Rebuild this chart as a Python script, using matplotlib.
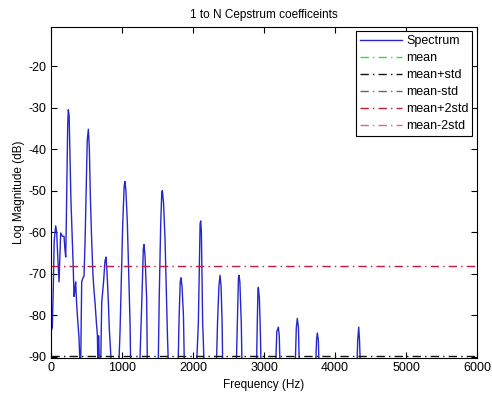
import matplotlib
matplotlib.use("Agg")
import matplotlib.pyplot as plt

plt.rcParams['font.family'] = ['Liberation Sans', 'DejaVu Sans']
plt.rcParams['axes.unicode_minus'] = False

# Spectrum trace: frequency (Hz) and log magnitude (dB) vertices
freq_hz = [
    0, 18, 30, 45, 66, 80, 95, 113, 125, 136, 160, 183, 195, 207, 215, 225, 235,
    244, 255, 265, 280, 300, 312, 324, 335, 347, 360, 375, 394, 408, 418, 432,
    450, 465, 480, 495, 510, 526, 540, 555, 573, 590, 605, 620, 640, 653, 660,
    664, 667, 673, 680, 700, 714, 740, 760, 775, 790, 808, 820, 832, 850, 955,
    972, 990, 1010, 1030, 1042, 1055, 1075, 1095, 1113, 1122, 1250, 1280, 1300,
    1310, 1325, 1347, 1357, 1510, 1525, 1545, 1560, 1568, 1585, 1606, 1625,
    1640, 1653, 1790, 1805, 1820, 1831, 1845, 1865, 1878, 2050, 2060, 2075,
    2090, 2100, 2108, 2118, 2136, 2145, 2155, 2330, 2345, 2365, 2380, 2395,
    2410, 2418, 2610, 2625, 2640, 2648, 2660, 2680, 2690, 2895, 2905, 2915,
    2920, 2935, 2950, 2958, 3165, 3180, 3202, 3215, 3225, 3440, 3455, 3469,
    3485, 3497, 3728, 3740, 3751, 3765, 3775, 4310, 4320, 4334, 4345, 4357,
    6000,
]
magnitude_db = [
    -84, -83, -75, -62, -58.5, -60, -66, -72, -66, -60.2, -61, -61, -64, -66,
    -58, -45, -34, -30.5, -32, -40, -52, -61.8, -68, -75.5, -74, -72, -77, -81,
    -85.4, -92, -92, -72, -71, -70.6, -62, -50, -38, -35.2, -40, -52, -62.2,
    -70, -74, -77, -82, -84.7, -92, -92, -85, -85, -92, -92, -77, -72, -67,
    -66, -70, -77, -83, -86.6, -92, -92, -84, -72, -58, -49, -47.8, -50, -57.8,
    -70, -81.8, -92, -92, -76, -64, -63, -66, -76, -92, -92, -75, -58, -50.5,
    -50, -53, -61.8, -75, -85, -92, -92, -80, -72, -71, -73, -80, -92, -92,
    -88, -82, -68, -58, -57.3, -60, -82, -86, -92, -92, -82, -73, -70.4, -73,
    -82, -92, -92, -82, -71, -70.4, -72, -82, -92, -92, -82, -74, -73.3, -76,
    -85, -92, -92, -84, -82.9, -85, -92, -92, -83, -80.8, -83, -92, -92, -86,
    -84.3, -86, -92, -92, -86, -82.9, -86, -92, -92,
]

# Reference levels (dB)
level_labels = ['mean', 'mean+std', 'mean-std', 'mean+2std', 'mean-2std']
level_values = [-111.6, -89.8, -133.4, -68.2, -155.2]
level_colors = ['#33dd33', '#111111', '#666666', '#c01a40', '#d46a88']

x_ticks = [0, 1000, 2000, 3000, 4000, 5000, 6000]
y_ticks = [-90, -80, -70, -60, -50, -40, -30, -20]

fig = plt.figure(figsize=(4.92, 3.99), dpi=100)
ax = fig.add_axes([0.1037, 0.1020, 0.8658, 0.8311])

ax.plot(freq_hz, magnitude_db, color='#2626cc', lw=1.0, label='Spectrum')
for lab, val, col in zip(level_labels, level_values, level_colors):
    ax.axhline(val, color=col, lw=1.0, ls=(0, (6, 3, 1, 3)), label=lab)

ax.set_xlim(0, 6000)
ax.set_ylim(-90.4, -10.5)
ax.set_xticks(x_ticks)
ax.set_yticks(y_ticks)
ax.tick_params(direction='in', top=True, right=True, length=4, width=0.8,
               labelsize=9, colors='black', pad=3)
for sp in ax.spines.values():
    sp.set_linewidth(0.8)
    sp.set_color('black')

ax.set_title('1 to N Cepstrum coefficeints', fontsize=8.5, pad=6)
ax.set_xlabel('Frequency (Hz)', fontsize=8.5, labelpad=3)
ax.set_ylabel('Log Magnitude (dB)', fontsize=8.5, labelpad=3)

leg = ax.legend(loc='upper right', bbox_to_anchor=(0.989, 0.986), fontsize=9,
                frameon=True, fancybox=False, framealpha=1, edgecolor='black',
                handlelength=3.4, handletextpad=0.3, labelspacing=0.4,
                borderpad=0.3, borderaxespad=0.0)
leg.get_frame().set_linewidth(0.8)

fig.savefig('out.png', dpi=100)
